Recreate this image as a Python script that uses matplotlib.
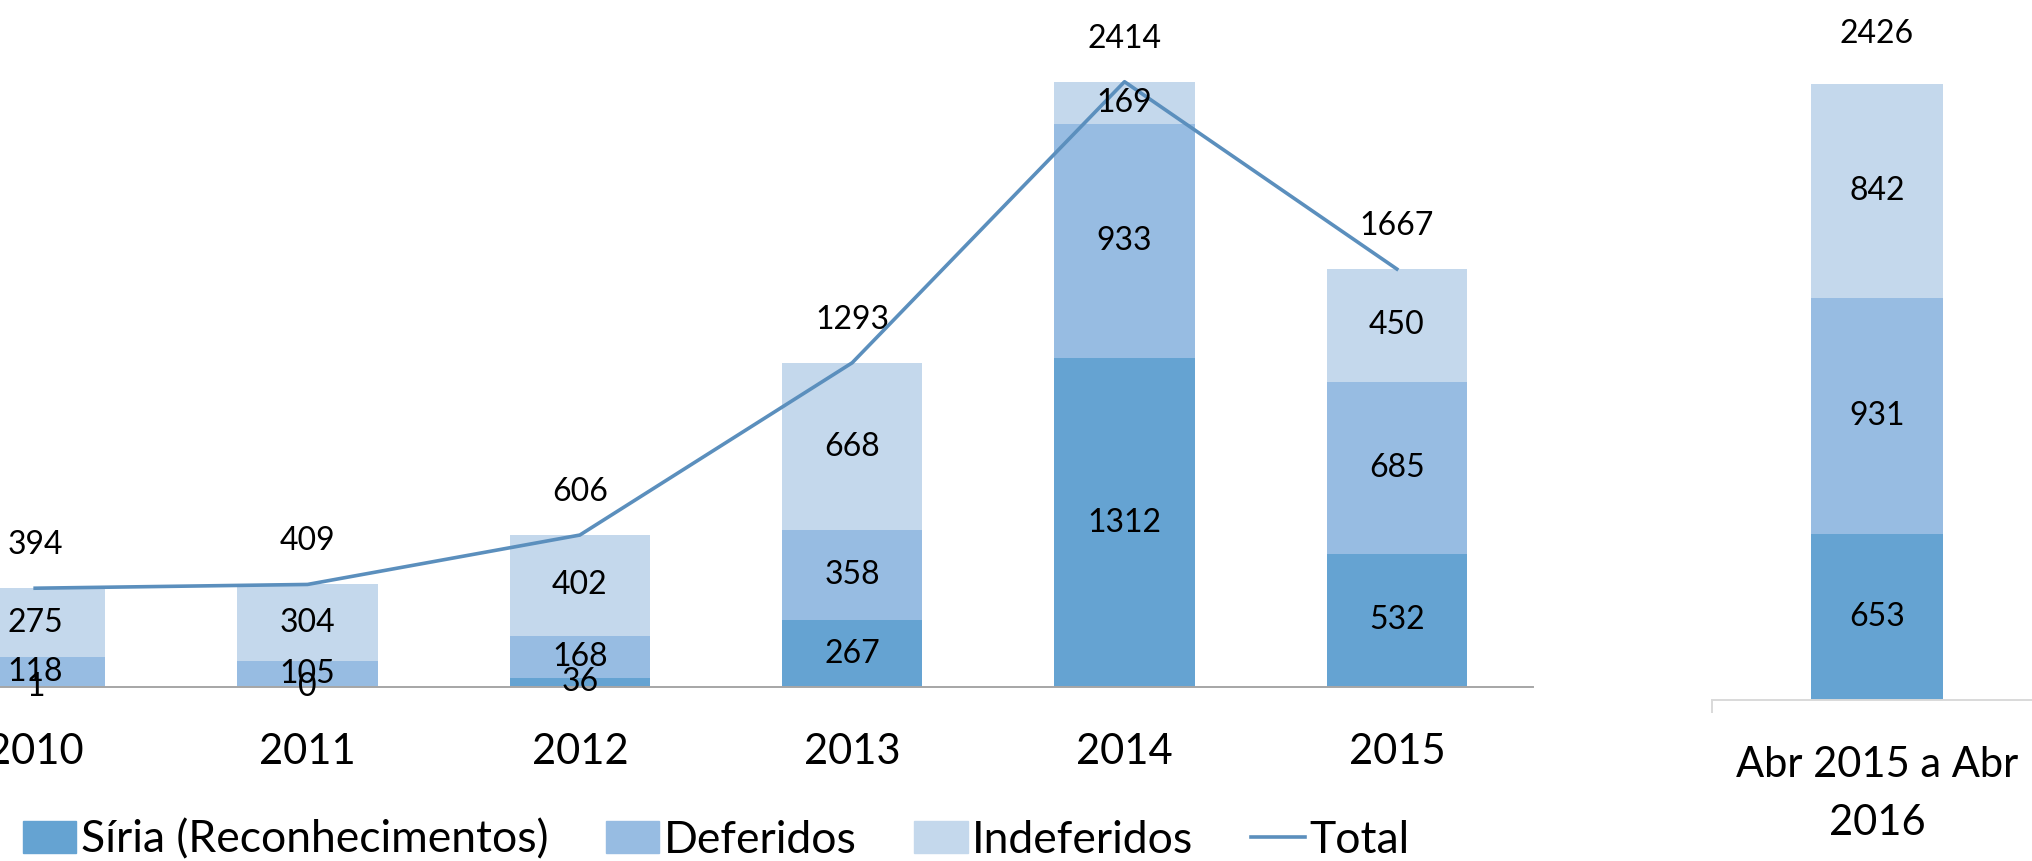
import numpy as np
import matplotlib
matplotlib.use("Agg")
from matplotlib import pyplot as plt
from matplotlib.lines import Line2D
from matplotlib.patches import Patch

plt.rcParams['font.family'] = ['Lato', 'DejaVu Sans']

# data
years = ["2010", "2011", "2012", "2013", "2014", "2015"]
siria = [1, 0, 36, 267, 1312, 532]
deferidos = [118, 105, 168, 358, 933, 685]
indeferidos = [275, 304, 402, 668, 169, 450]
total = [394, 409, 606, 1293, 2414, 1667]

period_label = "Abr 2015 a Abr\n2016"
period_siria = [653]
period_deferidos = [931]
period_indeferidos = [842]
period_total = [2426]

series_names = ["Síria (Reconhecimentos)", "Deferidos", "Indeferidos", "Total"]

c_siria = "#65a3d2"
c_def = "#97bce2"
c_indef = "#c4d8ec"
c_line = "#5b8fbd"

W, H = 2032, 861
fig = plt.figure(figsize=(W / 100, H / 100), dpi=100)

# left panel (partly cut at the left edge, like the source)
ax = fig.add_axes([-101 / W, (H - 687) / H, 1634 / W, 677 / H])
x = np.arange(len(years))
bw = 0.515
b1 = ax.bar(x, siria, bw, color=c_siria)
b2 = ax.bar(x, deferidos, bw, bottom=siria, color=c_def)
bot3 = np.array(siria) + np.array(deferidos)
b3 = ax.bar(x, indeferidos, bw, bottom=bot3, color=c_indef)
ax.plot(x, total, color=c_line, lw=2.6, zorder=4)

for bars in (b1, b2, b3):
    ax.bar_label(bars, label_type="center", fontsize=23, zorder=6)
for xi, t in zip(x, total):
    ax.annotate(str(t), (xi, t), xytext=(0, 31), textcoords="offset points",
                ha="center", va="center", fontsize=23)

ax.set_xlim(-0.5, 5.5)
ax.set_ylim(0, 2700)
ax.set_xticks(x)
ax.set_xticklabels(years, fontsize=30)
ax.tick_params(axis="x", length=0, pad=33)
ax.set_yticks([])
for s in ("top", "right", "left"):
    ax.spines[s].set_visible(False)
ax.spines["bottom"].set_color("#a6a6a6")
ax.spines["bottom"].set_linewidth(1.4)

handles = [Patch(color=c_siria), Patch(color=c_def), Patch(color=c_indef),
           Line2D([0], [0], color=c_line, lw=2.6)]
fig.legend(handles, series_names, loc="center", bbox_to_anchor=(716 / W, 1 - 840 / H),
           ncol=4, frameon=False, fontsize=32, handlelength=1.2, handleheight=0.7,
           handletextpad=0.1, columnspacing=1.3)

# right panel
ax2 = fig.add_axes([1712 / W, (H - 700) / H, 330 / W, 686 / H])
r1 = ax2.bar([0], period_siria, 0.40, color=c_siria)
r2 = ax2.bar([0], period_deferidos, 0.40, bottom=period_siria, color=c_def)
r3 = ax2.bar([0], period_indeferidos, 0.40,
             bottom=np.array(period_siria) + np.array(period_deferidos), color=c_indef)
for bars in (r1, r2, r3):
    ax2.bar_label(bars, label_type="center", fontsize=23)
ax2.annotate(str(period_total[0]), (0, period_total[0]), xytext=(0, 36),
             textcoords="offset points", ha="center", va="center", fontsize=23)
ax2.set_xlim(-0.5, 0.5)
ax2.set_ylim(0, 2700)
ax2.set_xticks([0])
ax2.set_xticklabels([period_label], fontsize=30, linespacing=1.65)
ax2.set_xticks([-0.5], minor=True)
ax2.tick_params(axis="x", which="major", length=0, pad=33)
ax2.tick_params(axis="x", which="minor", length=9, width=1.4, color="#d9d9d9")
ax2.set_yticks([])
for s in ("top", "right", "left"):
    ax2.spines[s].set_visible(False)
ax2.spines["bottom"].set_color("#d9d9d9")
ax2.spines["bottom"].set_linewidth(1.4)

fig.savefig("out.png", dpi=100)
